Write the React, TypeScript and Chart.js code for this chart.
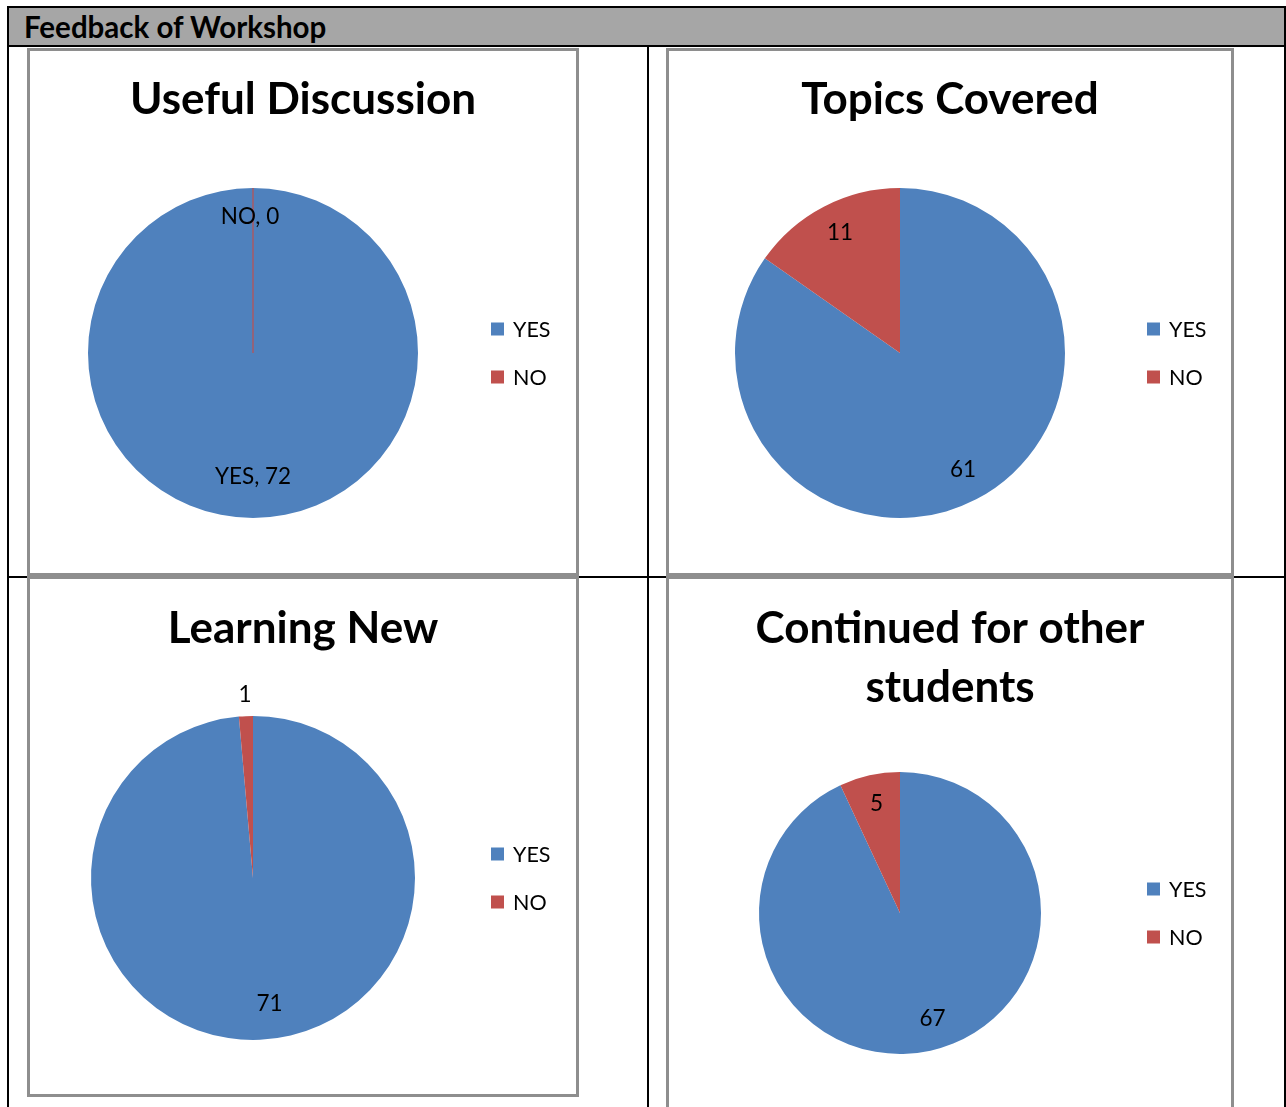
import { useEffect, useRef } from "react";
import { Chart, registerables } from "chart.js";

Chart.register(...registerables);

// ---------- data ----------
const CATEGORIES = ["YES", "NO"];
const USEFUL_DISCUSSION = [72, 0];
const TOPICS_COVERED = [61, 11];
const LEARNING_NEW = [71, 1];
const CONTINUED_OTHERS = [67, 5];
const SLICE_COLORS = ["#4F81BD", "#C0504D"];
const HEADER_TEXT = "Feedback of Workshop";

const FONT = "Lato, 'Open Sans', 'DejaVu Sans', sans-serif";

type Frame = {
  title: string[];
  values: number[];
  withCategory: boolean;
  box: { left: number; top: number; width: number; height: number };
  center: [number, number];
  radius: number;
  labelRadius: number[];
  labelShift: [number, number][];
  titleY: number[];
  legendX: number;
  legendY: number[];
};

const BORDER = 3;

const FRAMES: Frame[] = [
  {
    title: ["Useful Discussion"],
    values: USEFUL_DISCUSSION,
    withCategory: true,
    box: { left: 27, top: 48, width: 552, height: 528 },
    center: [253, 353],
    radius: 165,
    labelRadius: [0.75, 0.83],
    labelShift: [[0, 0], [-3, 1]],
    titleY: [100],
    legendX: 491,
    legendY: [329, 377],
  },
  {
    title: ["Topics Covered"],
    values: TOPICS_COVERED,
    withCategory: false,
    box: { left: 666, top: 48, width: 568, height: 528 },
    center: [900, 353],
    radius: 165,
    labelRadius: [0.8, 0.8],
    labelShift: [[2, 0], [1, -3]],
    titleY: [100],
    legendX: 1147,
    legendY: [329, 377],
  },
  {
    title: ["Learning New"],
    values: LEARNING_NEW,
    withCategory: false,
    box: { left: 27, top: 576, width: 552, height: 521 },
    center: [253, 878],
    radius: 162,
    labelRadius: [0.78, 1.13],
    labelShift: [[11, 0], [0, 0]],
    titleY: [629],
    legendX: 491,
    legendY: [854, 902],
  },
  {
    title: ["Continued for other", "students"],
    values: CONTINUED_OTHERS,
    withCategory: false,
    box: { left: 666, top: 576, width: 568, height: 545 },
    center: [900, 913],
    radius: 141,
    labelRadius: [0.77, 0.8],
    labelShift: [[9, 0], [1, 1]],
    titleY: [629, 688],
    legendX: 1147,
    legendY: [889, 937],
  },
];

const decorPlugin = {
  id: "pieDecor",
  afterDatasetsDraw(chart: any, _args: any, opts: any) {
    const f: Frame = opts.frame;
    const ox = f.box.left + BORDER;
    const oy = f.box.top + BORDER;
    const ctx: CanvasRenderingContext2D = chart.ctx;
    const meta = chart.getDatasetMeta(0);
    const ds = chart.data.datasets[0];
    const labels: string[] = chart.data.labels;
    ctx.save();
    // zero-size slices show as a thin line
    meta.data.forEach((arc: any, i: number) => {
      const p = arc.getProps(["x", "y", "startAngle", "endAngle", "outerRadius"], true);
      if (ds.data[i] === 0) {
        ctx.strokeStyle = (ds.backgroundColor as string[])[i];
        ctx.lineWidth = 1.2;
        ctx.beginPath();
        ctx.moveTo(p.x, p.y);
        ctx.lineTo(p.x + Math.cos(p.startAngle) * p.outerRadius, p.y + Math.sin(p.startAngle) * p.outerRadius);
        ctx.stroke();
      }
    });
    // data labels
    ctx.fillStyle = "#000";
    ctx.font = `22.5px ${FONT}`;
    ctx.textAlign = "center";
    ctx.textBaseline = "middle";
    meta.data.forEach((arc: any, i: number) => {
      const p = arc.getProps(["x", "y", "startAngle", "endAngle", "outerRadius"], true);
      const mid = (p.startAngle + p.endAngle) / 2;
      const rr = p.outerRadius * f.labelRadius[i];
      const txt = f.withCategory ? `${labels[i]}, ${ds.data[i]}` : `${ds.data[i]}`;
      const [sx, sy] = f.labelShift[i];
      ctx.fillText(txt, p.x + Math.cos(mid) * rr + sx, p.y + Math.sin(mid) * rr + sy);
    });
    // title
    ctx.font = `bold 44px ${FONT}`;
    f.title.forEach((t, i) => {
      ctx.fillText(t, f.box.width / 2 - BORDER, f.titleY[i] - oy);
    });
    // legend
    ctx.textAlign = "left";
    ctx.font = `21.5px ${FONT}`;
    labels.forEach((l, i) => {
      const y = f.legendY[i] - oy;
      ctx.fillStyle = (ds.backgroundColor as string[])[i];
      ctx.fillRect(f.legendX - ox, y - 6.5, 13, 13);
      ctx.fillStyle = "#000";
      ctx.fillText(l, f.legendX - ox + 22, y + 1);
    });
    ctx.restore();
  },
};

function PieBox({ frame }: { frame: Frame }) {
  const ref = useRef<HTMLCanvasElement | null>(null);
  const iw = frame.box.width - 2 * BORDER;
  const ih = frame.box.height - 2 * BORDER;
  useEffect(() => {
    if (!ref.current) return;
    const ix = frame.box.left + BORDER;
    const iy = frame.box.top + BORDER;
    const [cx, cy] = frame.center;
    const r = frame.radius;
    const chart = new Chart(ref.current, {
      type: "pie",
      data: {
        labels: CATEGORIES,
        datasets: [
          {
            data: frame.values,
            backgroundColor: SLICE_COLORS,
            borderWidth: 0,
          },
        ],
      },
      options: {
        animation: false,
        responsive: false,
        maintainAspectRatio: false,
        layout: {
          padding: {
            left: cx - r - ix,
            top: cy - r - iy,
            right: ix + iw - (cx + r),
            bottom: iy + ih - (cy + r),
          },
        },
        plugins: {
          legend: { display: false },
          title: { display: false },
          tooltip: { enabled: false },
          pieDecor: { frame },
        } as any,
      },
      plugins: [decorPlugin],
    });
    return () => chart.destroy();
  }, [frame]);
  return (
    <div
      style={{
        position: "absolute",
        left: frame.box.left,
        top: frame.box.top,
        width: frame.box.width,
        height: frame.box.height,
        border: `${BORDER}px solid #8e8e8e`,
        boxSizing: "border-box",
        background: "#fff",
      }}
    >
      <canvas ref={ref} width={iw} height={ih} style={{ display: "block", width: iw, height: ih }} />
    </div>
  );
}

const line = (left: number, top: number, width: number, height: number, color = "#000") => (
  <div style={{ position: "absolute", left, top, width, height, background: color }} />
);

export default function App() {
  return (
    <div
      style={{
        position: "absolute",
        left: 0,
        top: 0,
        width: 1286,
        height: 1107,
        overflow: "hidden",
        background: "#fff",
        fontFamily: FONT,
      }}
    >
      {line(9, 8, 1275, 37, "#A6A6A6")}
      <div
        style={{
          position: "absolute",
          left: 24,
          top: 8,
          height: 37,
          lineHeight: "37px",
          fontSize: 29.5,
          fontWeight: 700,
          color: "#000",
          whiteSpace: "nowrap",
        }}
      >
        {HEADER_TEXT}
      </div>
      {line(7, 6, 1279, 2)}
      {line(7, 6, 2, 1101)}
      {line(1284, 6, 2, 1101)}
      {line(7, 45, 1279, 2)}
      {line(647, 45, 2, 1062)}
      {line(7, 576, 1279, 2)}
      {FRAMES.map((f, i) => (
        <PieBox key={i} frame={f} />
      ))}
    </div>
  );
}
